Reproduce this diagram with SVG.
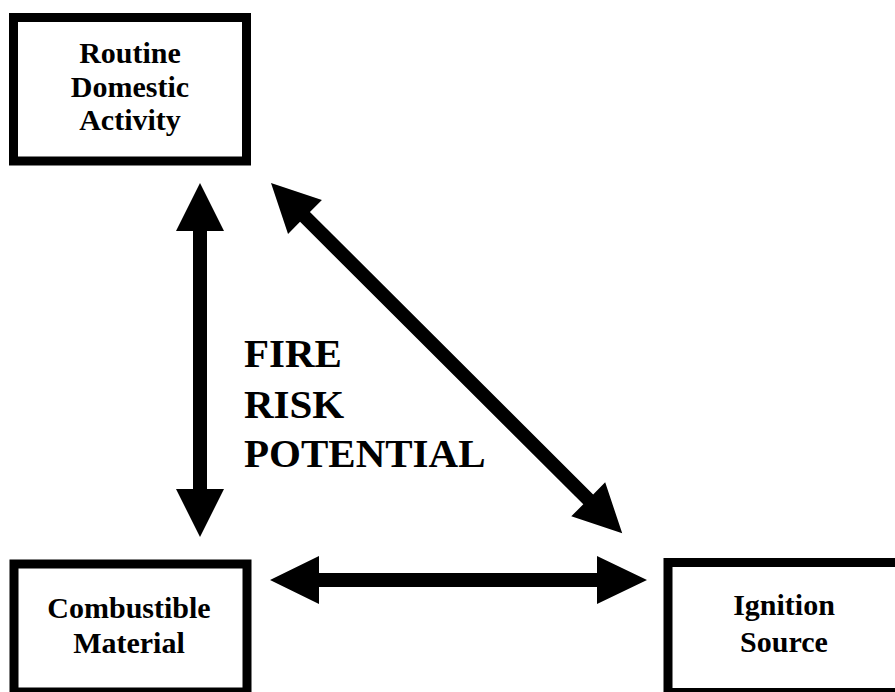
<svg xmlns="http://www.w3.org/2000/svg" width="895" height="692" viewBox="0 0 895 692">
<style>
.box{fill:#fff;stroke:#000;stroke-width:9}
.lbl{font-family:"Liberation Serif","Times New Roman",serif;font-weight:bold;font-size:30px;fill:#000;text-anchor:middle}
.big{font-family:"Liberation Serif","Times New Roman",serif;font-weight:bold;font-size:41px;fill:#000}
.arr{fill:#000;stroke:none}
</style>
<rect width="895" height="692" fill="#fff"/>
<g id="routine">
<rect class="box" x="13.5" y="17.5" width="233" height="143.5"/>
<text class="lbl" x="130" y="63">Routine</text>
<text class="lbl" x="130" y="97">Domestic</text>
<text class="lbl" x="130" y="130">Activity</text>
</g>
<g id="combustible">
<rect class="box" x="14" y="564" width="233" height="128"/>
<text class="lbl" x="129" y="618">Combustible</text>
<text class="lbl" x="129" y="653">Material</text>
</g>
<g id="ignition">
<rect class="box" x="668" y="562.5" width="232" height="130"/>
<text class="lbl" x="784" y="615">Ignition</text>
<text class="lbl" x="784" y="652">Source</text>
</g>
<g id="center-label">
<text class="big" x="244" y="367">FIRE</text>
<text class="big" x="244" y="418">RISK</text>
<text class="big" x="244" y="467">POTENTIAL</text>
</g>
<g id="connectors">
<polygon class="arr" points="200,183 224,231 207,231 207,489 224,489 200,537 176,489 193,489 193,231 176,231"/>
<polygon class="arr" points="270,580 319,556 319,573 597,573 597,556 647,580 597,604 597,587 319,587 319,604"/>
<polygon class="arr" transform="translate(271,183) rotate(44.92)" points="0,0 48,-24 48,-7 448,-7 448,-24 496,0 448,24 448,7 48,7 48,24"/>
</g>
</svg>
